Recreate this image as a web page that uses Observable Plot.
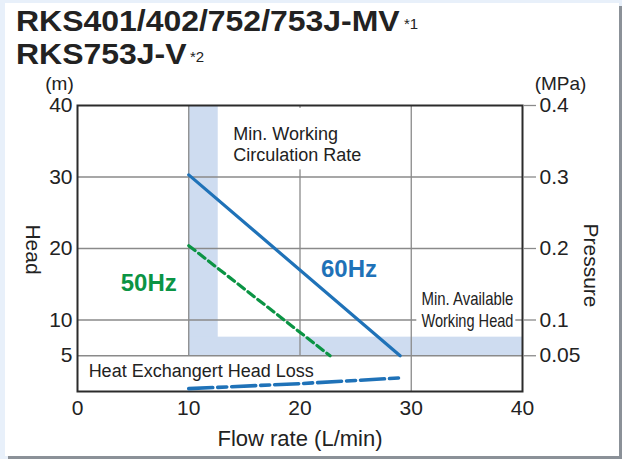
<!DOCTYPE html>
<html><head><meta charset="utf-8">
<script src="https://cdn.jsdelivr.net/npm/d3@7"></script>
<script src="https://cdn.jsdelivr.net/npm/@observablehq/plot@0.6"></script>
<style>
body{margin:0;background:#e8f0fa;font-family:"Liberation Sans",Arial,sans-serif;}
#wrap{position:relative;width:622px;height:459px;overflow:hidden;}
#card{position:absolute;left:5px;top:3px;width:614px;height:453px;background:#fff;box-shadow:3px 3px 0 #8b9198;}
.t{position:absolute;font-weight:bold;font-size:30px;color:#222;white-space:nowrap;line-height:30px;transform:scaleX(1.065);transform-origin:0 0;}
.s{position:absolute;font-size:15px;color:#222;line-height:15px;white-space:nowrap;}
#chart{position:absolute;left:0;top:0;}
</style></head>
<body>
<div id="wrap">
  <div id="card"></div>
  <div id="chart"></div>
  <div class="t" style="left:16px;top:5.6px">RKS401/402/752/753J-MV</div>
  <div class="s" style="left:404px;top:15.5px">*1</div>
  <div class="t" style="left:16px;top:39.2px">RKS753J-V</div>
  <div class="s" style="left:190px;top:49px">*2</div>
</div>
<script>
// Data
const flow60 = [10, 29];
const head60 = [30.3, 5];
const flow50 = [10, 22.7];
const head50 = [20.4, 5];
const flowLoss = [10, 20, 29];
const headLoss = [0.4, 1.1, 1.9];
const xTicks = [0, 10, 20, 30, 40];
const yTicks = [5, 10, 20, 30, 40];
const pressureTicks = ["0.05", "0.1", "0.2", "0.3", "0.4"];
const minFlow = [10, 12.65];   // min working circulation rate band (L/min)
const minHead = [5, 7.6];      // min available working head band (m)

const bands = [
  {x1: minFlow[0], x2: minFlow[1], y1: minHead[0], y2: 40},
  {x1: minFlow[0], x2: 40, y1: minHead[0], y2: minHead[1]}
];
const labelBoxes = [
  {x1: 13.4, x2: 26.3, y1: 31, y2: 39.6},
  {x1: 30.5, x2: 39.4, y1: 8.4, y2: 14.6}
];

const font = "Liberation Sans, Arial, sans-serif";
const grid = "#8a8a8a";
const blue = "#1f72b8";
const green = "#0b9444";

const chart = Plot.plot({
  width: 622, height: 459,
  marginTop: 105, marginLeft: 77, marginRight: 100, marginBottom: 68,
  style: {background: "transparent", fontFamily: font, color: "#222", overflow: "visible"},
  x: {domain: [0, 40]},
  y: {domain: [0, 40]},
  marks: [
    Plot.rect(bands, {x1: "x1", x2: "x2", y1: "y1", y2: "y2", fill: "#cedcf0"}),
    Plot.ruleY([5, 10, 20, 30], {stroke: grid, strokeWidth: 1.3}),
    Plot.ruleX([10, 20], {y1: 5, y2: 40, stroke: grid, strokeWidth: 1.3}),
    Plot.ruleX([30], {stroke: grid, strokeWidth: 1.3}),
    Plot.rect(labelBoxes, {x1: "x1", x2: "x2", y1: "y1", y2: "y2", fill: "white"}),
    Plot.frame({stroke: "#2b2b2b", strokeWidth: 2}),
    Plot.axisX(xTicks, {tickSize: 0, tickPadding: 9, fontSize: 21, label: null}),
    Plot.axisY(yTicks, {anchor: "left", tickSize: 0, tickPadding: 5, fontSize: 21, label: null}),
    Plot.axisY(yTicks, {anchor: "right", tickSize: 13, tickPadding: 4, fontSize: 21, stroke: grid, strokeWidth: 1.3,
      tickFormat: d => pressureTicks[yTicks.indexOf(d)], label: null}),
    Plot.line(flow50, {x: flow50, y: head50, stroke: green, strokeWidth: 3.2, strokeDasharray: "8,4.5"}),
    Plot.line(flow60, {x: flow60, y: head60, stroke: blue, strokeWidth: 3.2}),
    Plot.line(flowLoss, {x: flowLoss, y: headLoss, stroke: blue, strokeWidth: 3.6, strokeDasharray: "24,5,9,5"}),
    Plot.text(["Min. Working\nCirculation Rate"], {x: 14, y: 34.6, textAnchor: "start", lineAnchor: "middle", fontSize: 18, lineHeight: 1.12, fill: "#222"}),
    Plot.text(["Min. Available"], {x: 35.05, y: 13.0, textAnchor: "middle", lineAnchor: "middle", fontSize: 19, fill: "#222"}),
    Plot.text(["Working Head"], {x: 35.05, y: 9.85, textAnchor: "middle", lineAnchor: "middle", fontSize: 19, fill: "#222"}),
    Plot.text(["Heat Exchangert Head Loss"], {x: 1.0, y: 2.8, textAnchor: "start", lineAnchor: "middle", fontSize: 18, fill: "#222"}),
    Plot.text(["50Hz"], {x: 6.4, y: 15.1, fontSize: 24, fontWeight: "bold", fill: green, lineAnchor: "middle"}),
    Plot.text(["60Hz"], {x: 24.4, y: 17.1, fontSize: 24, fontWeight: "bold", fill: blue, lineAnchor: "middle"}),
    Plot.text(["(m)"], {frameAnchor: "top-left", dx: -18, dy: -22, fontSize: 19, lineAnchor: "middle", textAnchor: "middle", fill: "#222"}),
    Plot.text(["(MPa)"], {frameAnchor: "top-right", dx: 38, dy: -22, fontSize: 19, lineAnchor: "middle", textAnchor: "middle", fill: "#222"}),
    Plot.text(["Head"], {frameAnchor: "left", dx: -45, dy: 1, rotate: 90, fontSize: 21, lineAnchor: "middle", textAnchor: "middle", fill: "#222"}),
    Plot.text(["Pressure"], {frameAnchor: "right", dx: 68, dy: 17, rotate: 90, fontSize: 21, lineAnchor: "middle", textAnchor: "middle", fill: "#222"}),
    Plot.text(["Flow rate (L/min)"], {frameAnchor: "bottom", dy: 47, fontSize: 22, lineAnchor: "middle", textAnchor: "middle", fill: "#222"})
  ]
});
document.getElementById("chart").appendChild(chart);
// condense the "Min. Available / Working Head" label like the reference
d3.select(chart).selectAll("text").each(function() {
  const t = this.textContent;
  if (t === "Min. Available" || t === "Working Head") {
    this.setAttribute("textLength", 92);
    this.setAttribute("lengthAdjust", "spacingAndGlyphs");
  }
});
</script>
</body></html>
